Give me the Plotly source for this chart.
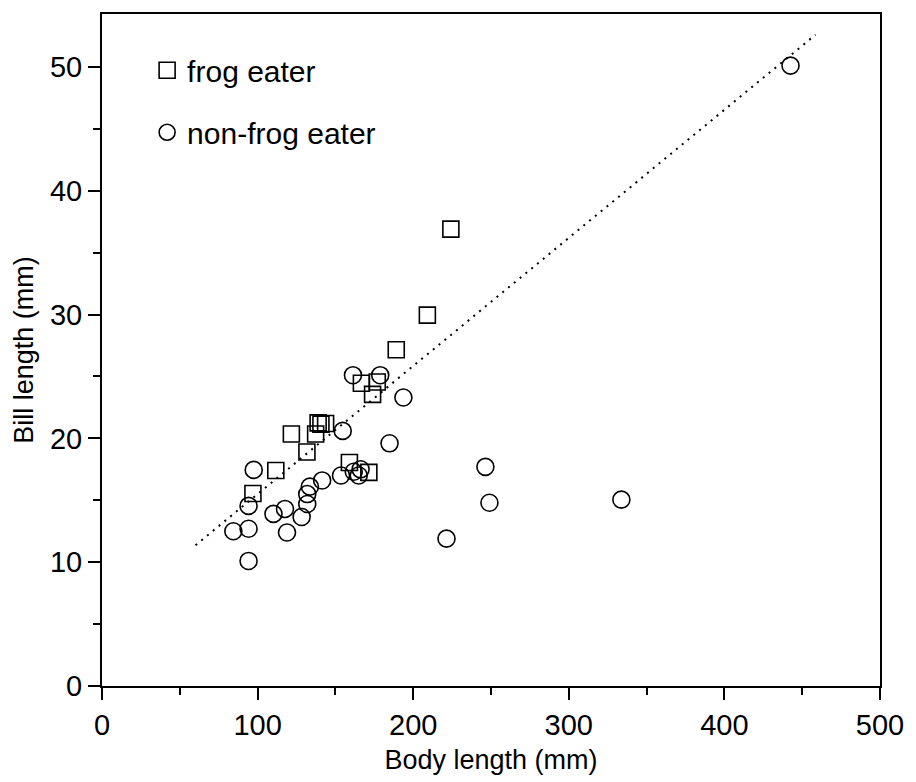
import plotly.graph_objects as go

# Frog eaters (squares)
frog_x = [97.0, 111.7, 121.7, 131.7, 137.3, 138.9, 140.7, 143.7, 159.0, 166.7,
          176.9, 173.9, 171.5, 189.1, 209.1, 224.2]
frog_y = [15.55, 17.4, 20.35, 18.9, 20.35, 21.25, 21.15, 21.2, 18.05, 24.45,
          24.55, 23.55, 17.25, 27.15, 29.95, 36.9]

# Non-frog eaters (circles)
nonfrog_x = [442.5, 161.3, 178.8, 193.7, 154.7, 184.8, 97.5, 246.4, 141.5, 153.6,
             161.8, 166.2, 165.0, 133.6, 131.9, 131.9, 94.2, 117.6, 110.2, 128.3,
             249.0, 333.8, 221.4, 84.4, 94.2, 118.9, 94.2]
nonfrog_y = [50.1, 25.1, 25.1, 23.3, 20.6, 19.6, 17.45, 17.7, 16.6, 17.0,
             17.3, 17.5, 17.0, 16.1, 15.5, 14.7, 14.55, 14.3, 13.9, 13.65,
             14.8, 15.05, 11.9, 12.5, 12.7, 12.4, 10.1]

# Fitted line end points
fit_x = [60.1, 458.6]
fit_y = [11.37, 52.6]

x_ticks = [0, 100, 200, 300, 400, 500]
y_ticks = [0, 10, 20, 30, 40, 50]

FONT = "Liberation Sans, Arial, sans-serif"

fig = go.Figure()
fig.add_trace(go.Scatter(
    x=fit_x, y=fit_y, mode="lines", showlegend=False,
    line=dict(color="black", width=2, dash="2px,5.5px"), hoverinfo="skip"))
fig.add_trace(go.Scatter(
    x=frog_x, y=frog_y, mode="markers", name="frog eater", legendgroup="a",
    marker=dict(symbol="square-open", size=16, color="black",
                line=dict(width=1.6, color="black"))))
fig.add_trace(go.Scatter(
    x=nonfrog_x, y=nonfrog_y, mode="markers", name="non-frog eater", legendgroup="b",
    marker=dict(symbol="circle-open", size=17, color="black",
                line=dict(width=1.6, color="black"))))

axis_common = dict(
    showgrid=False, zeroline=False, showline=True, linecolor="black", linewidth=2,
    mirror=True, ticks="outside", ticklen=12, tickwidth=1.5, tickcolor="black",
    tickfont=dict(family=FONT, size=29, color="black"),
)

fig.update_xaxes(
    range=[0, 500], tickvals=x_ticks, ticktext=[str(v) for v in x_ticks],
    minor=dict(dtick=50, tick0=0, ticks="outside", ticklen=7, tickwidth=1.5, tickcolor="black"),
    title=dict(text="Body length (mm)", font=dict(family=FONT, size=27, color="black"), standoff=10),
    **axis_common)
fig.update_yaxes(
    range=[0, 54.27], tickvals=y_ticks, ticktext=[str(v) for v in y_ticks],
    minor=dict(dtick=5, tick0=0, ticks="outside", ticklen=7, tickwidth=1.5, tickcolor="black"),
    title=dict(text="Bill length (mm)", font=dict(family=FONT, size=27, color="black"), standoff=8),
    **axis_common)

fig.update_layout(
    width=916, height=782,
    margin=dict(l=102, r=32, t=12, b=95),
    plot_bgcolor="white", paper_bgcolor="white",
    font=dict(family=FONT, color="black"),
    legend=dict(x=0.058, y=0.955, xanchor="left", yanchor="top",
                font=dict(family=FONT, size=30, color="black"),
                tracegroupgap=20, traceorder="grouped",
                bgcolor="rgba(0,0,0,0)"),
)

fig.write_html("out.html")
